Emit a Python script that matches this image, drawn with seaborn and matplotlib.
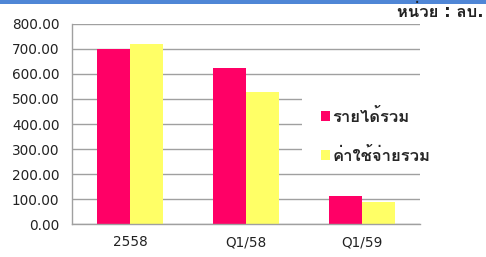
import numpy as np
import pandas as pd
import matplotlib
matplotlib.use("Agg")
import matplotlib.pyplot as plt
from matplotlib import font_manager, ft2font
from matplotlib.patches import Patch, Rectangle
import seaborn as sns

# data
periods = ["2558", "Q1/58", "Q1/59"]
revenue = [700.0, 624.0, 113.0]   # รายได้รวม
expense = [718.0, 528.0, 88.0]    # ค่าใช้จ่ายรวม
series_names = ["รายได้รวม", "ค่าใช้จ่ายรวม"]
y_ticks = [0, 100, 200, 300, 400, 500, 600, 700, 800]


def find_thai_font():
    """Return the name of an installed font with Thai glyphs, if any."""
    for f in font_manager.fontManager.ttflist:
        try:
            if 0x0E23 in ft2font.FT2Font(f.fname).get_charmap():
                return f.name
        except Exception:
            pass
    return None


sns.set_style("white")
thai = find_thai_font()
families = ["DejaVu Sans"] + ([thai] if thai else [])
plt.rcParams["font.family"] = families

df = pd.DataFrame({
    "period": periods * 2,
    "value": revenue + expense,
    "series": [series_names[0]] * 3 + [series_names[1]] * 3,
})

fig = plt.figure(figsize=(4.86, 2.57), dpi=100)
ax = fig.add_axes([0.148, 0.128, 0.716, 0.779])

palette = {series_names[0]: "#FF0066", series_names[1]: "#FFFF66"}
sns.barplot(data=df, x="period", y="value", hue="series", palette=palette,
            width=0.57, saturation=1, linewidth=0, ax=ax, legend=False,
            zorder=2)

ax.set_ylim(0, 800)
ax.set_xlim(-0.5, 2.5)
ax.set_yticks(y_ticks)
ax.set_yticklabels([f"{v:.2f}" for v in y_ticks], fontsize=9.8, color="#222222")
ax.set_xticks(range(len(periods)))
ax.set_xticklabels(periods, fontsize=9.8, color="#222222")
ax.set_xlabel("")
ax.set_ylabel("")
ax.yaxis.grid(True, color="#A0A0A0", linewidth=1)
ax.set_axisbelow(True)

for side in ["top", "right"]:
    ax.spines[side].set_visible(False)
for side in ["left", "bottom"]:
    ax.spines[side].set_color("#A0A0A0")
    ax.spines[side].set_linewidth(1)

ax.tick_params(axis="y", length=5, color="#A0A0A0", pad=4)
ax.tick_params(axis="x", which="major", length=0, pad=8)
ax.set_xticks([-0.5, 0.5, 1.5, 2.5], minor=True)
ax.tick_params(axis="x", which="minor", length=4, color="#A0A0A0")

# white legend box hiding the gridlines behind it
ax.add_patch(Rectangle((302 / 486, 1 - 167 / 257), 150 / 486, 82 / 257,
                       transform=fig.transFigure, facecolor="white",
                       edgecolor="none", zorder=1.5, clip_on=False))

handles = [Patch(facecolor=palette[s], edgecolor="none") for s in series_names]
leg = fig.legend(handles, series_names, loc="upper left",
                 bbox_to_anchor=(0.66, 0.58), frameon=False,
                 handlelength=0.55, handleheight=0.55, handletextpad=0.15,
                 labelspacing=1.25, borderpad=0, borderaxespad=0,
                 prop={"size": 12, "weight": "bold"})
leg.set_zorder(5)

fig.text(0.995, 0.953, "หน่วย : ลบ.", ha="right", va="center",
         fontsize=12, fontweight="bold", color="#222222")

# blue strip across the top
fig.patches.append(Rectangle((0, 0.985), 1, 0.015, transform=fig.transFigure,
                             facecolor="#4F86D6", edgecolor="none"))

fig.savefig("out.png", dpi=100)
plt.close(fig)
